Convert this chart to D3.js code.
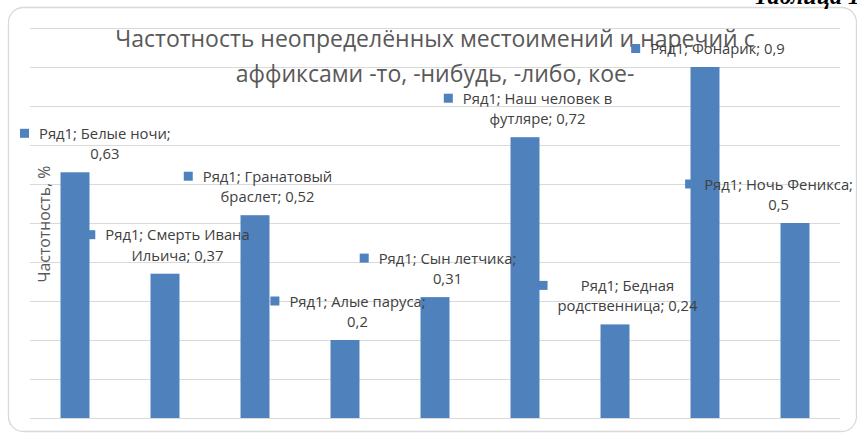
<!DOCTYPE html>
<html>
<head>
<meta charset="utf-8">
<script src="https://cdn.jsdelivr.net/npm/d3@7"></script>
<style>
  html, body { margin: 0; padding: 0; background: #ffffff; }
  svg { display: block; }
</style>
</head>
<body>
<svg id="chart" width="857" height="433"></svg>
<script>
// Частотность по произведениям (доля, 0–1)
const seriesName = "Ряд1";
const categories = [
  "Белые ночи",
  "Смерть Ивана Ильича",
  "Гранатовый браслет",
  "Алые паруса",
  "Сын летчика",
  "Наш человек в футляре",
  "Бедная родственница",
  "Фонарик",
  "Ночь Феникса"
];
const values = [0.63, 0.37, 0.52, 0.2, 0.31, 0.72, 0.24, 0.9, 0.5];
const yTicks = [0, 0.1, 0.2, 0.3, 0.4, 0.5, 0.6, 0.7, 0.8, 0.9, 1.0];
const titleLines = [
  "Частотность неопределённых местоимений и наречий с",
  "аффиксами -то, -нибудь, -либо, кое-"
];
const yAxisTitle = "Частотность, %";
const captionText = "Таблица 1";

const W = 857, H = 433;
const plot = { left: 30, right: 840, top: 28, bottom: 418 };
const barColor = "#4f81bd";
const labelFont = "'Open Sans', 'Noto Sans', sans-serif";

const svg = d3.select("#chart");

// Chart frame
svg.append("rect")
  .attr("x", 8.5).attr("y", 7.5)
  .attr("width", 848).attr("height", 424)
  .attr("rx", 15).attr("ry", 15)
  .attr("fill", "#ffffff")
  .attr("stroke", "#d9d9d9").attr("stroke-width", 1.3);

// Caption above the frame
svg.append("text")
  .attr("x", 860).attr("y", 3.5)
  .attr("text-anchor", "end")
  .attr("font-family", "'Liberation Serif', 'Times New Roman', serif")
  .attr("font-style", "italic").attr("font-weight", "bold")
  .attr("font-size", 24).attr("fill", "#000")
  .text(captionText);

const x = d3.scaleBand()
  .domain(categories)
  .range([plot.left, plot.right])
  .paddingInner(0.678)
  .paddingOuter(0.339);

const y = d3.scaleLinear()
  .domain([0, 1])
  .range([plot.bottom, plot.top]);

// Horizontal gridlines via an axis with full-width ticks
const grid = svg.append("g")
  .attr("transform", `translate(${plot.left},0)`)
  .call(d3.axisRight(y).tickValues(yTicks).tickSize(plot.right - plot.left).tickFormat(""));
grid.select(".domain").remove();
grid.selectAll(".tick line").attr("stroke", "#d9d9d9").attr("stroke-width", 1.2);

// Title
const title = svg.append("text")
  .attr("font-family", labelFont)
  .attr("font-size", 23)
  .attr("fill", "#595959")
  .attr("text-anchor", "middle");
titleLines.forEach((t, i) => {
  title.append("tspan").attr("x", 435).attr("y", 47 + i * 35).text(t);
});

// Y axis title
svg.append("text")
  .attr("transform", `translate(50,224) rotate(-90)`)
  .attr("text-anchor", "middle")
  .attr("font-family", labelFont)
  .attr("font-size", 15.8)
  .attr("fill", "#595959")
  .text(yAxisTitle);

// Bars
svg.append("g").selectAll("rect")
  .data(categories)
  .join("rect")
  .attr("x", d => x(d))
  .attr("y", (d, i) => y(values[i]))
  .attr("width", x.bandwidth())
  .attr("height", (d, i) => y(0) - y(values[i]))
  .attr("fill", barColor);

// Data labels: legend key + "series; category; value", wrapped and centred over each bar
const fmt = v => String(v).replace(".", ",");
const labelSize = 14.8;
const lineH = 20.5;
const maxLine = 156;
const keySize = 9, keyGap = 10;
const boxMin = 20, boxMax = 853;

const measurer = svg.append("text")
  .attr("font-family", labelFont).attr("font-size", labelSize)
  .attr("visibility", "hidden");
const measure = s => { measurer.text(s); return measurer.node().getComputedTextLength(); };

const labels = svg.append("g");
categories.forEach((c, i) => {
  const full = `${seriesName}; ${c}; ${fmt(values[i])}`;
  const words = full.split(" ");
  const lines = [];
  let cur = "";
  words.forEach(w => {
    const test = cur ? cur + " " + w : w;
    if (cur && measure(test) > maxLine) { lines.push(cur); cur = w; }
    else cur = test;
  });
  lines.push(cur);
  const blockW = d3.max(lines, measure);
  let cx = x(c) + x.bandwidth() / 2 + 12.5;
  let left = cx - blockW / 2 - keySize - keyGap;
  let right = cx + blockW / 2;
  if (left < boxMin) cx += boxMin - left;
  if (right > boxMax) cx -= right - boxMax;

  const lastBase = y(values[i]) - 13;
  const firstBase = lastBase - (lines.length - 1) * lineH;
  labels.append("rect")
    .attr("x", cx - blockW / 2 - keyGap - keySize)
    .attr("y", firstBase - 10)
    .attr("width", keySize).attr("height", keySize)
    .attr("fill", barColor);
  const t = labels.append("text")
    .attr("font-family", labelFont).attr("font-size", labelSize)
    .attr("fill", "#404040").attr("text-anchor", "middle");
  lines.forEach((ln, k) => {
    t.append("tspan").attr("x", cx).attr("y", firstBase + k * lineH).text(ln);
  });
});
measurer.remove();
</script>
</body>
</html>
